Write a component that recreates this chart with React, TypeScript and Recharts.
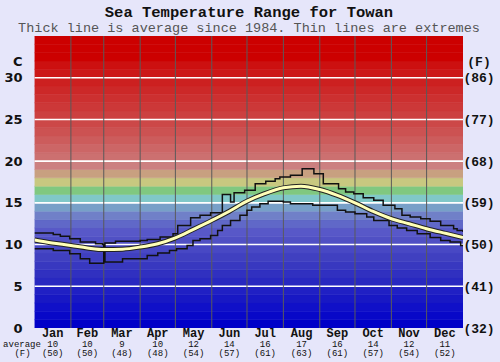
import React from "react";
import { ComposedChart, Line, XAxis, YAxis, ReferenceArea, ReferenceLine } from "recharts";

// day of year -> temperature (C)
const avgDays = [0, 15, 31, 45, 59, 75, 90, 105, 120, 135, 151, 166, 181, 196, 212, 227, 243, 258, 273, 288, 304, 319, 334, 350, 365];
const avgTemps = [10.55, 10.2, 9.9, 9.6, 9.4, 9.45, 9.7, 10.1, 10.8, 11.8, 12.9, 14.0, 15.2, 16.1, 16.8, 17.0, 16.6, 15.9, 15.0, 14.0, 13.1, 12.5, 11.9, 11.35, 10.85];

const maxDays = [0, 16, 22, 30, 39, 52, 58, 59, 60, 69, 90, 96, 107, 118, 122, 133, 141, 150, 160, 167, 170, 179, 188, 197, 205, 209, 218, 228, 238, 246, 259, 265, 272, 280, 289, 297, 307, 313, 320, 329, 337, 346, 357, 360, 365];
const maxTemps = [11.4, 11.2, 11.0, 10.7, 10.3, 10.1, 10.0, 9.4, 10.2, 10.4, 10.5, 10.6, 10.9, 11.3, 12.3, 13.2, 13.5, 13.8, 16.0, 15.1, 16.2, 16.5, 17.3, 17.6, 17.9, 18.1, 18.3, 19.1, 18.5, 17.3, 16.7, 16.3, 16.1, 15.6, 15.3, 14.7, 14.3, 13.5, 13.3, 13.1, 12.8, 12.3, 11.9, 11.7, 11.5];

const minDays = [0, 16, 30, 39, 47, 59, 60, 75, 96, 105, 115, 121, 130, 135, 141, 150, 156, 160, 167, 175, 181, 185, 192, 199, 212, 218, 237, 258, 265, 273, 283, 289, 302, 309, 317, 326, 337, 346, 354, 363, 365];
const minTemps = [9.5, 9.3, 8.9, 8.3, 7.75, 9.4, 7.9, 8.3, 8.7, 9.0, 9.3, 9.5, 9.9, 10.5, 10.7, 11.1, 11.7, 12.3, 12.9, 13.5, 14.1, 14.5, 14.9, 15.2, 15.1, 14.9, 14.7, 14.1, 13.9, 13.7, 13.3, 12.9, 12.3, 12.0, 11.7, 11.3, 10.85, 10.5, 10.3, 9.9, 9.9];

const monthNames = ["Jan", "Feb", "Mar", "Apr", "May", "Jun", "Jul", "Aug", "Sep", "Oct", "Nov", "Dec"];
const monthMidDays = [15.5, 45, 74.5, 105, 135.5, 166, 196.5, 227.5, 258, 288.5, 319, 349.5];
const monthBoundaryDays = [31, 59, 90, 120, 151, 181, 212, 243, 273, 304, 334];
const monthAvgC = [10, 10, 9, 10, 12, 14, 16, 17, 16, 14, 12, 11];
const monthAvgF = [50, 50, 48, 48, 54, 57, 61, 63, 61, 57, 54, 52];

const yTicks = [0, 5, 10, 15, 20, 25, 30, 32];
const gridTemps = [5, 10, 15, 20, 25, 30];

// one colour per 1 degree band, 0..35
const bandColors = [
  "#0000c8", "#0808c8", "#1010c8", "#1818c4", "#2020c4", "#2828c0", "#3030c0", "#3838c0",
  "#4040c0", "#4848c4", "#5050c4", "#5858c8", "#6068c8", "#7080c8", "#78a0c8", "#80c8c8",
  "#80c880", "#c8c880", "#c8a080", "#cc8080", "#cc7070", "#cc6666", "#cc5c5c", "#cc5252",
  "#cc4848", "#cc4040", "#cc3838", "#cc3030", "#cc2828", "#cc2020", "#cc1818", "#cc1010",
  "#cc0000", "#cc0000", "#cc0000",
];

const avgData = avgDays.map((d, i) => ({ day: d, t: avgTemps[i] }));
const maxData = maxDays.map((d, i) => ({ day: d, t: maxTemps[i] }));
const minData = minDays.map((d, i) => ({ day: d, t: minTemps[i] }));

const mono = "'Liberation Mono', 'Courier New', monospace";

const MonthTick = (props: any) => {
  const { x, y, payload } = props;
  const i = monthMidDays.indexOf(payload.value);
  if (i < 0) return null;
  return (
    <g>
      <text x={x} y={y + 9} textAnchor="middle" fontFamily={mono} fontWeight="bold" fontSize={12} fill="#111">
        {monthNames[i]}
      </text>
      <text x={x} y={y + 19} textAnchor="middle" fontFamily={mono} fontSize={9} fill="#111">
        {monthAvgC[i]}
      </text>
      <text x={x} y={y + 27.5} textAnchor="middle" fontFamily={mono} fontSize={9} fill="#111">
        ({monthAvgF[i]})
      </text>
    </g>
  );
};

const FTick = (props: any) => {
  const { x, y, payload } = props;
  const v = payload.value;
  const label = v === 32 ? "(F)" : `(${Math.round((v * 9) / 5 + 32)})`;
  return (
    <text x={x + 14} y={y} dy="0.35em" textAnchor="middle" fontFamily={mono} fontWeight="bold" fontSize={13} fill="#111">
      {label}
    </text>
  );
};

export default function App() {
  return (
    <div style={{ position: "absolute", left: 0, top: 0, width: 500, height: 362, background: "#e6e6fa" }}>
      <ComposedChart width={500} height={362} margin={{ top: 36, right: 0, bottom: 0, left: 0 }}>
        <XAxis
          dataKey="day"
          type="number"
          domain={[0, 365]}
          ticks={monthMidDays}
          interval={0}
          height={34}
          axisLine={false}
          tickLine={false}
          tickSize={0}
          tickMargin={0}
          tick={<MonthTick />}
          allowDataOverflow
        />
        <YAxis
          yAxisId="left"
          type="number"
          domain={[0, 35]}
          ticks={yTicks}
          interval={0}
          width={34.5}
          axisLine={false}
          tickLine={false}
          tickSize={0}
          tickMargin={12}
          tickFormatter={(v) => (v === 32 ? "C" : String(v))}
          tick={{ fill: "#111", fontFamily: "'DejaVu Sans', Verdana, sans-serif", fontWeight: "bold", fontSize: 13 }}
          allowDataOverflow
        />
        <YAxis
          yAxisId="right"
          orientation="right"
          type="number"
          domain={[0, 35]}
          ticks={yTicks}
          interval={0}
          width={37}
          axisLine={false}
          tickLine={false}
          tickSize={0}
          tickMargin={2}
          tick={<FTick />}
          allowDataOverflow
        />
        {bandColors.map((c, i) => (
          <ReferenceArea
            key={"band" + i}
            yAxisId="left"
            y1={i}
            y2={i + 1}
            fill={c}
            fillOpacity={1}
            stroke={c}
            strokeWidth={0.5}
            ifOverflow="hidden"
            zIndex={10}
          />
        ))}
        {gridTemps.map((t) => (
          <ReferenceLine key={"h" + t} yAxisId="left" y={t} stroke="#ffffff" strokeWidth={1.6} zIndex={20} />
        ))}
        {monthBoundaryDays.map((d) => (
          <ReferenceLine key={"v" + d} yAxisId="left" x={d} stroke="#5a5a5a" strokeWidth={1} zIndex={20} />
        ))}
        <Line
          yAxisId="left"
          data={maxData}
          dataKey="t"
          type="stepAfter"
          stroke="#111"
          strokeWidth={1.5}
          dot={false}
          activeDot={false}
          isAnimationActive={false}
        />
        <Line
          yAxisId="left"
          data={minData}
          dataKey="t"
          type="stepAfter"
          stroke="#111"
          strokeWidth={1.5}
          dot={false}
          activeDot={false}
          isAnimationActive={false}
        />
        <Line
          yAxisId="left"
          data={avgData}
          dataKey="t"
          type="monotone"
          stroke="#222"
          strokeWidth={5}
          dot={false}
          activeDot={false}
          isAnimationActive={false}
        />
        <Line
          yAxisId="left"
          data={avgData}
          dataKey="t"
          type="monotone"
          stroke="#ffffb8"
          strokeWidth={3}
          dot={false}
          activeDot={false}
          isAnimationActive={false}
        />
      </ComposedChart>
      <svg width={500} height={362} style={{ position: "absolute", left: 0, top: 0, pointerEvents: "none" }}>
        <text x={249} y={16.5} textAnchor="middle" fontFamily={mono} fontWeight="bold" fontSize={15.5} fill="#111">
          Sea Temperature Range for Towan
        </text>
        <text x={249} y={32} textAnchor="middle" fontFamily={mono} fontSize={13.5} fill="#555">
          Thick line is average since 1984. Thin lines are extremes
        </text>
        <text x={22} y={347} textAnchor="middle" fontFamily={mono} fontSize={9} fill="#111">
          average
        </text>
        <text x={22.5} y={356} textAnchor="middle" fontFamily={mono} fontSize={9} fill="#111">
          (F)
        </text>
      </svg>
    </div>
  );
}
